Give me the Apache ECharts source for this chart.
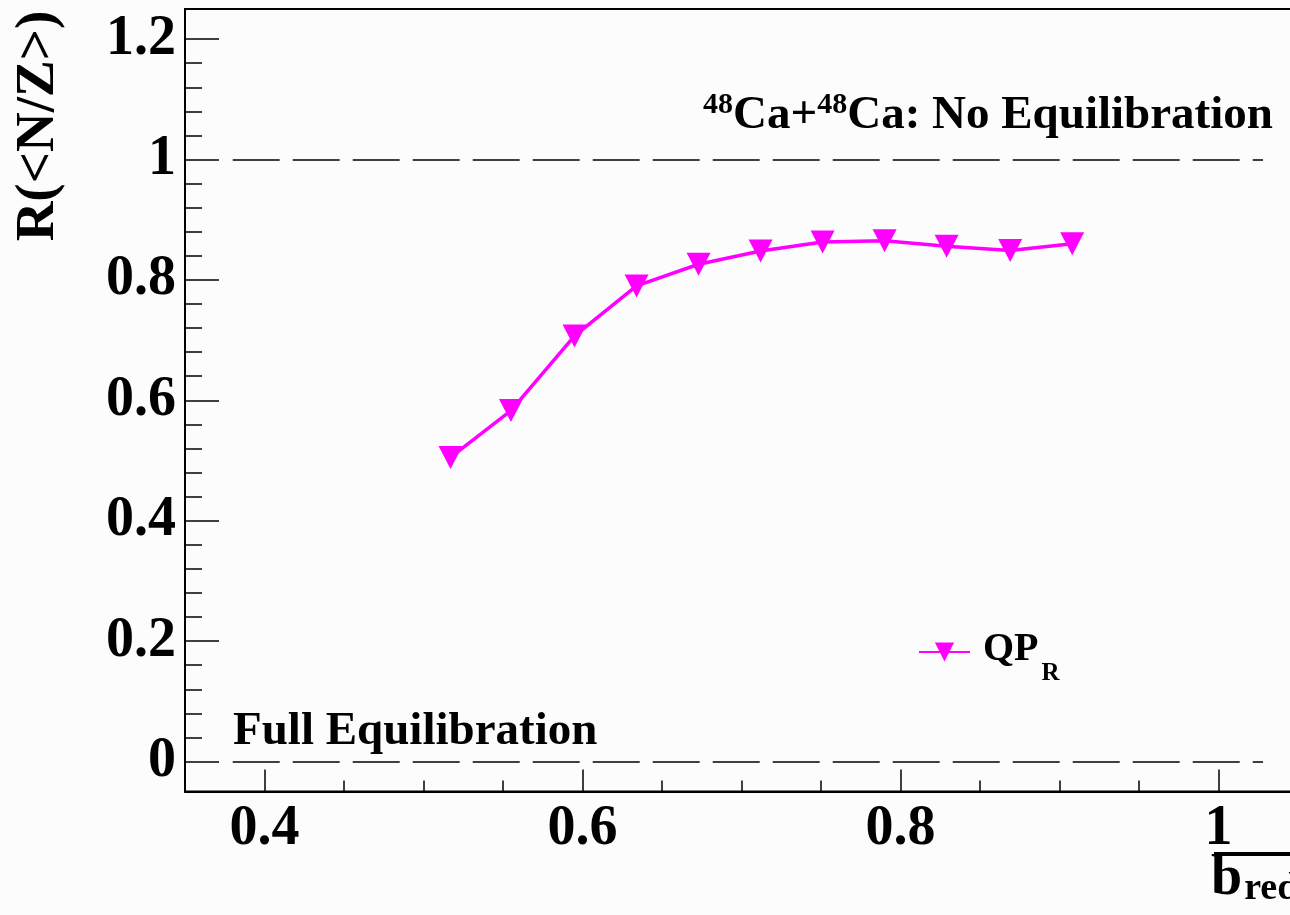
<!DOCTYPE html>
<html>
<head>
<meta charset="utf-8">
<script src="https://cdn.jsdelivr.net/npm/echarts@6/dist/echarts.min.js"></script>
<style>
html, body { margin: 0; padding: 0; background: #fcfcfc; }
#main { width: 1290px; height: 915px; }
</style>
</head>
<body>
<div id="main"></div>
<script>
// b_red (x) and R(<N/Z>) (y)
var bRed = [0.517, 0.555, 0.595, 0.634, 0.673, 0.712, 0.751, 0.790, 0.829, 0.869, 0.908];
var ratioQP = [0.505, 0.583, 0.707, 0.790, 0.826, 0.848, 0.863, 0.865, 0.856, 0.849, 0.860];

// dashed reference levels: no equilibration (1) and full equilibration (0)
var refLevels = [1, 0];
var refFrom = 0.38;
var refTo = 1.028;

// axis ranges and tick marks
var xRange = [0.35, 1.05];
var yRange = [-0.05, 1.25];
var xMajor = [0.4, 0.6, 0.8, 1.0];
var yMajor = [0, 0.2, 0.4, 0.6, 0.8, 1.0, 1.2];

function minors(major, n) {
    var out = [];
    for (var i = 0; i < major.length - 1; i++) {
        var step = (major[i + 1] - major[i]) / n;
        for (var k = 1; k < n; k++) {
            out.push(Math.round((major[i] + k * step) * 10000) / 10000);
        }
    }
    return out;
}
var xMinor = minors(xMajor, 4);
var yMinor = minors(yMajor, 5);

var serif = 'Liberation Serif';
var tickStyle = { color: '#000', width: 1.5 };
var labelStyle = { color: '#000', fontFamily: serif, fontWeight: 'bold', fontSize: 56 };

var myChart = echarts.init(document.getElementById('main'));

var option = {
    backgroundColor: '#fcfcfc',
    animation: false,
    grid: {
        left: 185,
        top: 9,
        width: 1113,
        height: 782.6,
        outerBoundsMode: 'none',
        containLabel: false,
        show: true,
        borderColor: '#000',
        borderWidth: 2,
        backgroundColor: 'transparent'
    },
    xAxis: [
        {
            type: 'value',
            min: xRange[0],
            max: xRange[1],
            axisLine: { show: true, onZero: false, lineStyle: { color: '#000', width: 2 } },
            axisTick: { show: true, inside: true, length: 22, customValues: xMajor, lineStyle: tickStyle },
            splitLine: { show: false },
            axisLabel: Object.assign({ margin: 10, customValues: xMajor }, labelStyle)
        },
        {
            type: 'value',
            position: 'bottom',
            min: xRange[0],
            max: xRange[1],
            axisLine: { show: false, onZero: false },
            axisTick: { show: true, inside: true, length: 11, customValues: xMinor, lineStyle: tickStyle },
            splitLine: { show: false },
            axisLabel: { show: false }
        }
    ],
    yAxis: [
        {
            type: 'value',
            min: yRange[0],
            max: yRange[1],
            axisLine: { show: true, onZero: false, lineStyle: { color: '#000', width: 2 } },
            axisTick: { show: true, inside: true, length: 34, customValues: yMajor, lineStyle: tickStyle },
            splitLine: { show: false },
            axisLabel: Object.assign({ margin: 9, customValues: yMajor }, labelStyle)
        },
        {
            type: 'value',
            position: 'left',
            min: yRange[0],
            max: yRange[1],
            axisLine: { show: false, onZero: false },
            axisTick: { show: true, inside: true, length: 17, customValues: yMinor, lineStyle: tickStyle },
            splitLine: { show: false },
            axisLabel: { show: false }
        }
    ],
    legend: {
        left: 918,
        top: 630,
        padding: 0,
        itemWidth: 51,
        itemHeight: 24,
        data: ['QP_R'],
        formatter: function () {
            return '{a|QP}{b|R}';
        },
        textStyle: {
            color: '#000',
            rich: {
                a: { fontFamily: serif, fontWeight: 'bold', fontSize: 40, lineHeight: 44, verticalAlign: 'top', padding: [0, 0, 0, 8] },
                b: { fontFamily: serif, fontWeight: 'bold', fontSize: 25, lineHeight: 24, verticalAlign: 'top', padding: [31, 0, 0, 3] }
            }
        }
    },
    graphic: [
        {
            type: 'text',
            x: 39,
            y: 126,
            rotation: Math.PI / 2,
            style: {
                text: 'R(<N/Z>)',
                fill: '#000',
                fontFamily: serif,
                fontWeight: 'bold',
                fontSize: 55,
                align: 'center',
                verticalAlign: 'middle'
            }
        },
        {
            type: 'text',
            x: 703,
            y: 90,
            style: {
                text: '{s|48}{m|Ca+}{s|48}{m|Ca: No Equilibration}',
                fill: '#000',
                verticalAlign: 'top',
                rich: {
                    s: { fontFamily: serif, fontWeight: 'bold', fontSize: 30, lineHeight: 30, verticalAlign: 'top' },
                    m: { fontFamily: serif, fontWeight: 'bold', fontSize: 47, lineHeight: 47, padding: [5, 0, 0, 0] }
                }
            }
        },
        {
            type: 'text',
            x: 233,
            y: 708,
            style: {
                text: 'Full Equilibration',
                fill: '#000',
                fontFamily: serif,
                fontWeight: 'bold',
                fontSize: 47,
                verticalAlign: 'top'
            }
        },
        {
            type: 'rect',
            shape: { x: 1214, y: 852, width: 100, height: 4 },
            style: { fill: '#000' }
        },
        {
            type: 'text',
            x: 1211,
            y: 852,
            style: {
                text: '{b|b}{s|red}',
                fill: '#000',
                verticalAlign: 'top',
                rich: {
                    b: { fontFamily: serif, fontWeight: 'bold', fontSize: 56, lineHeight: 56 },
                    s: { fontFamily: serif, fontWeight: 'bold', fontSize: 38, lineHeight: 38, verticalAlign: 'bottom', padding: [0, 0, 0, 2] }
                }
            }
        }
    ],
    series: [
        {
            name: 'QP_R',
            type: 'line',
            xAxisIndex: 0,
            yAxisIndex: 0,
            data: bRed.map(function (x, i) { return [x, ratioQP[i]]; }),
            symbol: 'path://M0 0L20 0L10 20Z',
            symbolSize: [24, 23],
            showSymbol: true,
            itemStyle: { color: '#ff00ff' },
            lineStyle: { color: '#ff00ff', width: 3.5 },
            markLine: {
                silent: true,
                symbol: 'none',
                label: { show: false },
                lineStyle: { color: '#000', width: 1.5, type: [47, 13] },
                data: refLevels.map(function (v) {
                    return [{ coord: [refFrom, v] }, { coord: [refTo, v] }];
                })
            }
        }
    ]
};

myChart.setOption(option);
</script>
</body>
</html>
